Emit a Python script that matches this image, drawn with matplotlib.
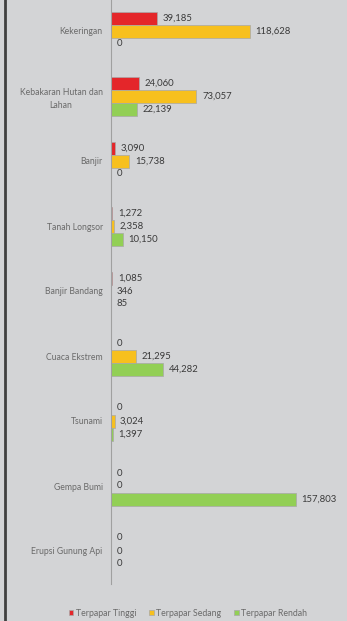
import matplotlib.pyplot as plt
from matplotlib.lines import Line2D

categories = ['Kekeringan', 'Kebakaran Hutan dan\nLahan', 'Banjir', 'Tanah Longsor',
              'Banjir Bandang', 'Cuaca Ekstrem', 'Tsunami', 'Gempa Bumi', 'Erupsi Gunung Api']
tinggi = [39185, 24060, 3090, 1272, 1085, 0, 0, 0, 0]
sedang = [118628, 73057, 15738, 2358, 346, 21295, 3024, 0, 0]
rendah = [0, 22139, 0, 10150, 85, 44282, 1397, 157803, 0]

series = [('Terpapar Tinggi', tinggi, '#e4262a'),
          ('Terpapar Sedang', sedang, '#f7c01e'),
          ('Terpapar Rendah', rendah, '#92cf55')]

bg = '#d3d4d6'
plt.rcParams['font.family'] = ['Lato', 'DejaVu Sans']

fig = plt.figure(figsize=(3.47, 6.21), dpi=100)
fig.patch.set_facecolor(bg)
ax = fig.add_axes([111 / 347, 37.5 / 621, 234 / 347, 585 / 621])
ax.set_facecolor(bg)

h = 0.2
ypos = list(range(len(categories)))
for k, (name, vals, col) in enumerate(series):
    ys = [y + (k - 1) * h for y in ypos]
    ax.barh(ys, vals, height=h, color=col, edgecolor='#a8a8a8', linewidth=0.5, label=name)
    for y, v in zip(ys, vals):
        ax.annotate(f'{v:,}', (v, y), xytext=(4, 0), textcoords='offset points',
                    va='center', ha='left', fontsize=6.8, color='#3a3a3a')

ax.set_xlim(0, 200000)
ax.set_ylim(8.5, -0.5)
ax.set_yticks(ypos)
ax.set_yticklabels(categories, fontsize=6.2, color='#6a6a6a', multialignment='center',
                   linespacing=1.6)
ax.tick_params(axis='y', length=0, pad=6)
ax.set_xticks([])
for s in ['top', 'right', 'bottom']:
    ax.spines[s].set_visible(False)
ax.spines['left'].set_color('#a0a0a0')
ax.spines['left'].set_linewidth(0.8)

fig.legend(loc='center', bbox_to_anchor=(188 / 347, 1 - 613 / 621), ncol=3, frameon=False,
           fontsize=6.3, handlelength=0.5, handleheight=0.6, handletextpad=0.3,
           columnspacing=1.5, labelcolor='#6a6a6a')

fig.add_artist(Line2D([5 / 347, 5 / 347], [0, 1], color='#404040', lw=2, transform=fig.transFigure))

fig.savefig('out.png', dpi=100, facecolor=bg)
